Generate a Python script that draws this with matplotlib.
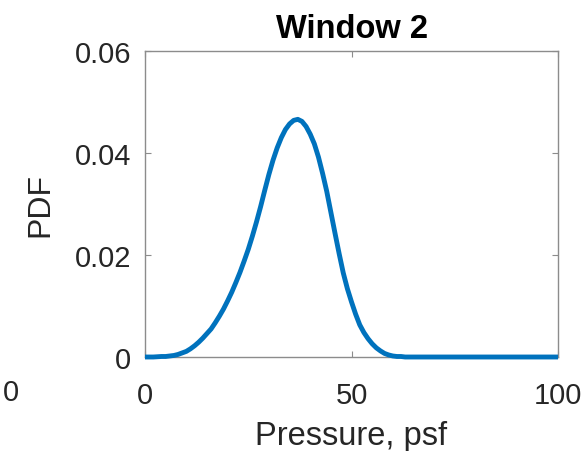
import matplotlib
matplotlib.use("Agg")
import matplotlib.pyplot as plt

plt.rcParams['font.family'] = ['Liberation Sans', 'DejaVu Sans']

# Estimated probability density of pressure in window 2
pressure = [0, 2, 4, 5, 6, 7, 8, 9, 10, 11, 12, 13, 14, 15, 16, 17, 18, 19,
            20, 21, 22, 23, 24, 25, 26, 27, 28, 29, 30, 31, 32, 33, 34, 35,
            36, 37, 38, 39, 40, 41, 42, 43, 44, 45, 46, 47, 48, 49, 50, 51,
            52, 53, 54, 55, 56, 57, 58, 59, 60, 61, 62, 63, 64, 70, 80, 90,
            100]
pdf = [0.0, 0.0, 0.0001, 0.0001, 0.0002, 0.0003, 0.0005, 0.0008, 0.0011,
       0.0016, 0.0022, 0.0029, 0.0037, 0.0046, 0.0055, 0.0067, 0.0080,
       0.0094, 0.0110, 0.0127, 0.0146, 0.0166, 0.0188, 0.0211, 0.0237,
       0.0265, 0.0295, 0.0327, 0.0358, 0.0386, 0.0410, 0.0430, 0.0446,
       0.0457, 0.0464, 0.0466, 0.0462, 0.0452, 0.0437, 0.0418, 0.0392,
       0.0360, 0.0325, 0.0284, 0.0243, 0.0203, 0.0165, 0.0134, 0.0108,
       0.0084, 0.0063, 0.0048, 0.0036, 0.0026, 0.0018, 0.0012, 0.0007,
       0.0004, 0.0002, 0.0001, 0.0001, 0.0, 0.0, 0.0, 0.0, 0.0, 0.0]

xticks = [0, 50, 100]
yticks = [0, 0.02, 0.04, 0.06]
ytick_labels = ['0', '0.02', '0.04', '0.06']

text_color = '#262626'
axis_color = '#8c8c8c'

fig = plt.figure(figsize=(5.88, 4.52), dpi=100)
ax = fig.add_axes([145 / 588, 1 - 358 / 452, (558 - 145) / 588, (358 - 52) / 452])

ax.plot(pressure, pdf, color='#0072BD', linewidth=3.5, solid_capstyle='butt',
        solid_joinstyle='round', clip_on=False, zorder=3)

ax.set_xlim(0, 100)
ax.set_ylim(0, 0.06)
ax.set_xticks(xticks)
ax.set_xticklabels([str(t) for t in xticks])
ax.set_yticks(yticks)
ax.set_yticklabels(ytick_labels)

for s in ax.spines.values():
    s.set_color(axis_color)
    s.set_linewidth(1.0)

ax.tick_params(axis='both', direction='in', length=4, width=0.8,
               color=axis_color, labelcolor=text_color, labelsize=21,
               top=True, right=True)
ax.tick_params(axis='x', pad=17)
ax.tick_params(axis='y', pad=10)

ax.set_xlabel('Pressure, psf', fontsize=23.5, color=text_color, labelpad=8)
ax.set_ylabel('PDF', fontsize=23, color=text_color, labelpad=14)
ax.set_title('Window 2', fontsize=23.5, fontweight='bold', color='black', pad=10)

# tick label of the neighbouring panel on the left
fig.text(10.5 / 588, 1 - 393 / 452, '0', fontsize=21, color=text_color,
         ha='center', va='center')

fig.savefig('out.png', dpi=100)
